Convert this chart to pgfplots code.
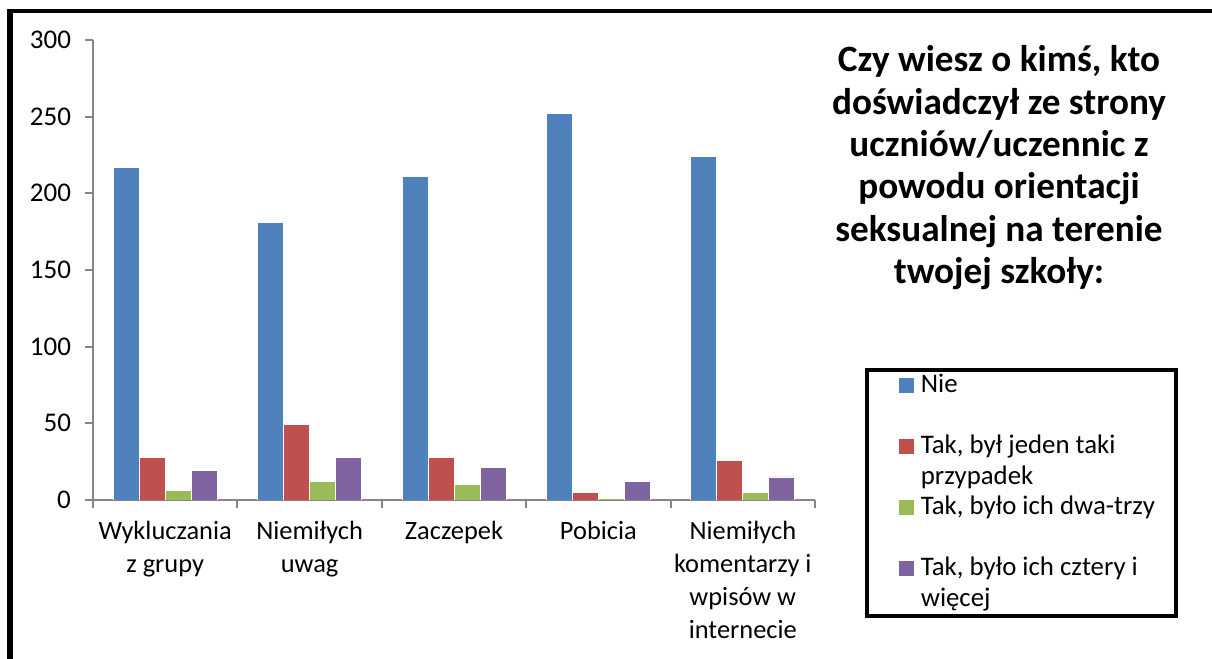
\documentclass[border=0pt]{standalone}
\usepackage{fontspec}
\setmainfont{Carlito}
\usepackage{pgfplots}
\pgfplotsset{compat=1.18}
\definecolor{cNie}{HTML}{4F81BD}
\definecolor{cJeden}{HTML}{C0504D}
\definecolor{cDwa}{HTML}{9BBB59}
\definecolor{cCztery}{HTML}{8064A2}
\definecolor{axgray}{HTML}{868686}
\begin{document}
\begin{tikzpicture}[x=1pt,y=1pt]
\path[use as bounding box] (0,0) rectangle (606,329.5);
\draw[line width=3pt] (5,0) -- (5,324);
\draw[line width=2pt] (3.5,324) -- (606,324);
\node[align=center, font=\bfseries\fontsize{18.6}{21.2}\selectfont] at (499.5,245.6)
 {Czy wiesz o kimś, kto\\doświadczył ze strony\\uczniów/uczennic z\\powodu orientacji\\seksualnej na terenie\\twojej szkoły:};
\begin{axis}[
  at={(46.5pt,79.5pt)}, anchor=south west,
  scale only axis, width=361pt, height=230pt,
  xmin=-0.5, xmax=4.5, ymin=0, ymax=300,
  ybar=0pt, bar width=13pt,
  axis x line*=bottom, axis y line*=left,
  axis line style={draw=axgray, line width=1pt},
  tick align=outside, major tick length=4pt,
  tick style={draw=axgray, line width=1pt},
  ytick={0,50,...,300},
  xtick={-0.5,0.5,...,4.5}, xticklabels={},
  extra x ticks={0,1,2,3,4},
  extra x tick labels={Wykluczania\\z grupy, Niemiłych\\uwag, Zaczepek, Pobicia, Niemiłych\\komentarzy i\\wpisów w\\internecie},
  extra x tick style={tick style={draw=none}},
  x tick label style={align=center, font=\fontsize{13.2}{16.5}\selectfont, anchor=north, yshift=-3pt},
  y tick label style={font=\fontsize{13.5}{15.5}\selectfont, xshift=-3.5pt},
  /pgf/number format/assume math mode=true,
  legend style={at={(1.0693,0.287)}, anchor=north west, draw=black, line width=2pt,
    inner sep=0.5pt, row sep=0pt, font=\fontsize{13.4}{15.5}\selectfont,
    cells={anchor=base west}, nodes={inner sep=0pt, text height=10.85pt, text depth=19.6pt}},
  legend image code/.code={\path (0pt,0pt); \fill[#1, draw=none] (15.5pt,-0.3pt) rectangle (23pt,7.2pt); \path (26pt,0pt);},
]
\addplot[fill=cNie, draw=white, line width=0.4pt] coordinates {(0,217) (1,181) (2,211) (3,252) (4,224)};
\addplot[fill=cJeden, draw=white, line width=0.4pt] coordinates {(0,28) (1,49) (2,28) (3,5) (4,26)};
\addplot[fill=cDwa, draw=white, line width=0.4pt] coordinates {(0,6) (1,12) (2,10) (3,1) (4,5)};
\addplot[fill=cCztery, draw=white, line width=0.4pt] coordinates {(0,19) (1,28) (2,21) (3,12) (4,15)};
\addlegendentry{\parbox[t]{127pt}{\strut Nie}}
\addlegendentry{\parbox[t]{127pt}{\strut Tak, był jeden taki\\przypadek}}
\addlegendentry{\parbox[t]{127pt}{\strut Tak, było ich dwa-trzy}}
\addlegendentry{\parbox[t]{127pt}{\strut Tak, było ich cztery i\\więcej}}
\end{axis}
\end{tikzpicture}
\end{document}
